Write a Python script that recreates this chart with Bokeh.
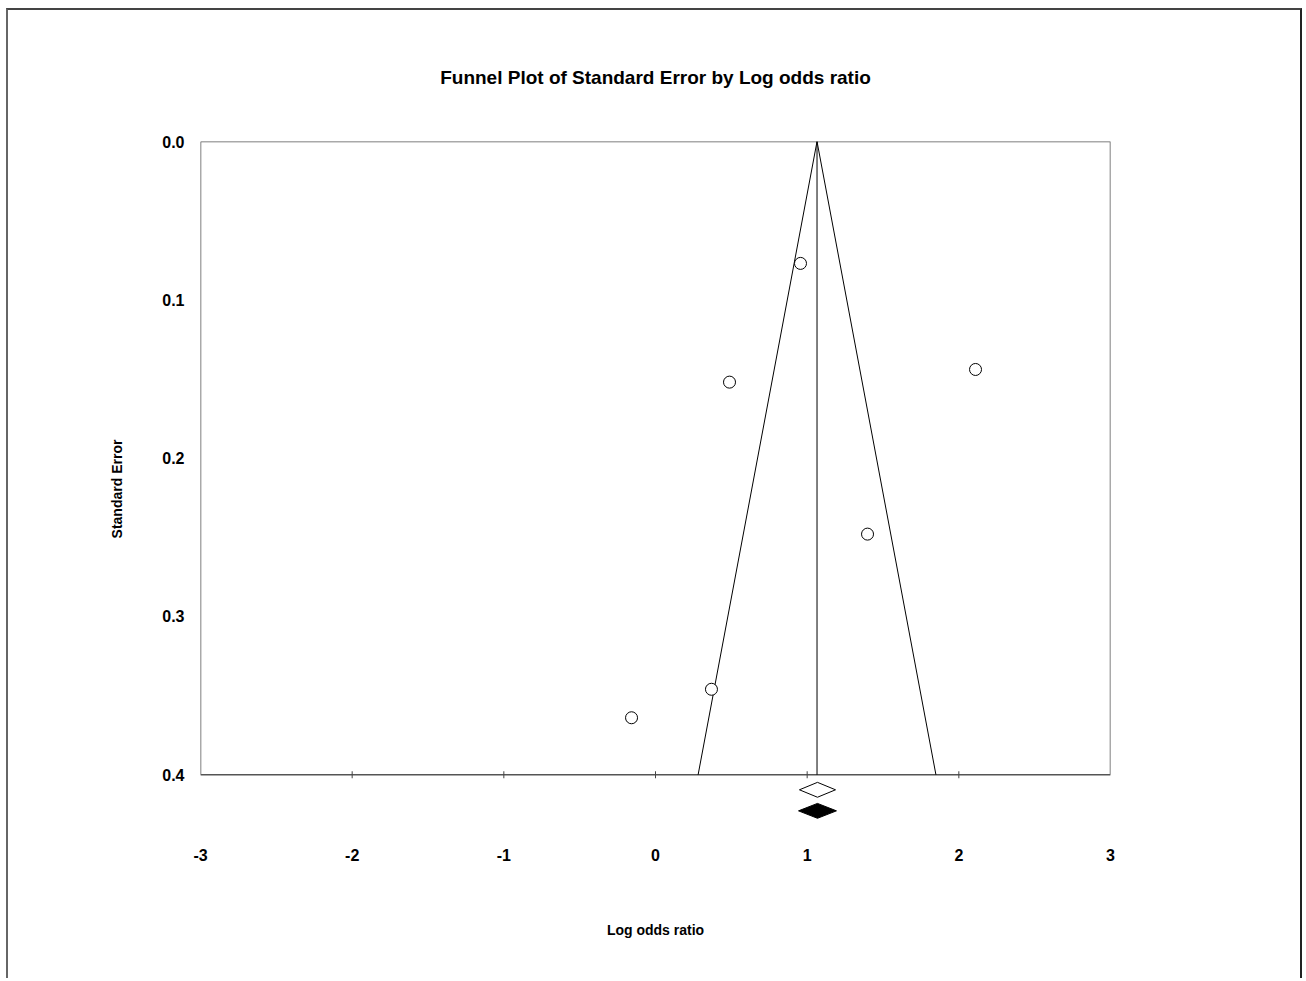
import math
from bokeh.plotting import figure
from bokeh.models import Range1d, FixedTicker, NumeralTickFormatter
from bokeh.embed import file_html
from bokeh.resources import INLINE

# ---- data ----
log_or = [0.956, 0.488, 2.110, 1.398, 0.369, -0.158]
std_err = [0.077, 0.152, 0.144, 0.248, 0.346, 0.364]
combined = 1.065          # combined log odds ratio (funnel apex / vertical line)
fixed_ci = [0.949, 1.187]  # open diamond
random_ci = [0.943, 1.193]  # filled diamond
x_ticks = [-3, -2, -1, 0, 1, 2, 3]
x_tick_labels = ["-3", "-2", "-1", "0", "1", "2", "3"]
y_ticks = [0.0, 0.1, 0.2, 0.3, 0.4]
se_max = 0.4

FONT = "'Liberation Sans Narrow', 'Liberation Sans', Arial, sans-serif"

p = figure(width=1296, height=970, output_backend="svg", toolbar_location=None,
           x_range=Range1d(-3, 3), y_range=Range1d(0.439, 0.0),
           min_border_left=192, min_border_right=194, min_border_top=131,
           min_border_bottom=144, outline_line_color=None,
           title="Funnel Plot of Standard Error by Log odds ratio")
p.styles = {"border-top": "2px solid #444", "border-left": "2px solid #666",
            "border-right": "2px solid #222", "margin-left": "6px", "margin-top": "8px"}
p.grid.visible = False
p.background_fill_color = "white"
p.border_fill_color = "white"

p.title.align = "center"
p.title.text_font = FONT
p.title.text_font_size = "19px"
p.title.text_font_style = "bold"
p.title.text_color = "black"
p.title.standoff = 107

# axes
p.xaxis.ticker = FixedTicker(ticks=x_ticks)
p.xaxis.major_label_overrides = dict(zip(x_ticks, x_tick_labels))
p.xaxis.axis_line_color = None
p.xaxis.major_tick_line_color = None
p.xaxis.minor_tick_line_color = None
p.xaxis.major_label_standoff = 6
p.xaxis.axis_label = "Log odds ratio"
p.xaxis.axis_label_standoff = 58

p.yaxis.ticker = FixedTicker(ticks=y_ticks)
p.yaxis.formatter = NumeralTickFormatter(format="0.0")
p.yaxis.axis_line_color = None
p.yaxis.major_tick_line_color = None
p.yaxis.minor_tick_line_color = None
p.yaxis.major_label_standoff = 10
p.yaxis.axis_label = "Standard Error"
p.yaxis.axis_label_standoff = 34

for ax in (p.xaxis, p.yaxis):
    ax.major_label_text_font = FONT
    ax.major_label_text_font_size = "16px"
    ax.major_label_text_font_style = "bold"
    ax.major_label_text_color = "black"
    ax.axis_label_text_font = FONT
    ax.axis_label_text_font_size = "14px"
    ax.axis_label_text_font_style = "bold"
    ax.axis_label_text_color = "black"

# plot box (0..se_max)
x0, x1 = x_ticks[0], x_ticks[-1]
p.line([x0, x1, x1, x0, x0], [0, 0, se_max, se_max, 0], line_color="#555555", line_width=1.5)
# tick marks crossing the bottom line
p.scatter(x_ticks[1:-1], [se_max] * (len(x_ticks) - 2), marker="dash", angle=math.pi / 2,
          size=7, line_color="#444444", line_width=1)

# funnel
z = 1.96
p.line([combined - z * se_max, combined, combined + z * se_max], [se_max, 0, se_max],
       line_color="black", line_width=1)
p.line([combined, combined], [0, se_max], line_color="black", line_width=1)

# studies
p.scatter(log_or, std_err, size=12, marker="circle", fill_color="white",
          line_color="black", line_width=1)

# diamonds below the box
dy1, dy2, h = 0.0095, 0.0228, 0.0047
yc1, yc2 = se_max + dy1, se_max + dy2
c1 = sum(fixed_ci) / 2
c2 = sum(random_ci) / 2
p.patch([fixed_ci[0], c1, fixed_ci[1], c1], [yc1, yc1 - h, yc1, yc1 + h],
        fill_color="white", line_color="black", line_width=1)
p.patch([random_ci[0], c2, random_ci[1], c2], [yc2, yc2 - h, yc2, yc2 + h],
        fill_color="black", line_color="black", line_width=1)

open("out.html", "w").write(file_html(p, INLINE))
